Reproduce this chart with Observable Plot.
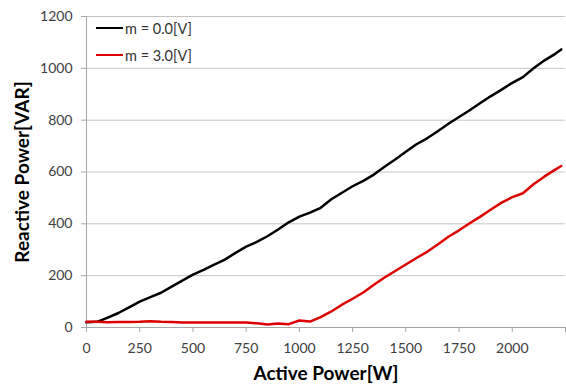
<!DOCTYPE html>
<html><head><meta charset="utf-8">
<script src="https://cdn.jsdelivr.net/npm/d3@7"></script>
<script src="https://cdn.jsdelivr.net/npm/@observablehq/plot@0.6"></script>
<style>
body{margin:0;background:#fff;}
#wrap{position:relative;width:566px;height:388px;overflow:hidden;}
.leg{position:absolute;left:96px;font:14.5px Lato,sans-serif;color:#333;display:flex;align-items:center;height:16px;white-space:nowrap;}
.leg .sw{display:inline-block;width:27px;height:2.5px;margin-right:2px;}
</style></head><body><div id="wrap"></div>
<script>
const powerW = [0,50,100,150,200,250,300,350,400,450,500,550,600,650,700,750,800,850,900,950,1000,1050,1100,1150,1200,1250,1300,1350,1400,1450,1500,1550,1600,1650,1700,1750,1800,1850,1900,1950,2000,2050,2100,2150,2200,2230];
const seriesNames = ["m = 0.0[V]", "m = 3.0[V]"];
const seriesColors = ["#000000", "#dd0000"];
const reactive0 = [20,22,38,56,78,100,117,134,158,181,204,222,243,262,288,312,330,352,378,406,428,443,462,495,520,545,566,590,620,648,678,707,730,757,786,812,838,866,893,918,944,966,1000,1030,1055,1073];
const reactive3 = [22,22,20,21,21,22,24,22,21,19,19,19,19,19,19,19,16,12,15,13,27,23,40,62,88,111,135,165,193,218,243,268,292,320,350,375,402,428,455,482,503,518,553,582,608,623];
const xTicks = [0,250,500,750,1000,1250,1500,1750,2000,2250];
const yTicks = [0,200,400,600,800,1000,1200];
const xTitle = "Active Power[W]";
const yTitle = "Reactive Power[VAR]";

const rows = [];
powerW.forEach((p, i) => {
  rows.push({p, q: reactive0[i], s: seriesNames[0]});
  rows.push({p, q: reactive3[i], s: seriesNames[1]});
});

const chart = Plot.plot({
  width: 566, height: 388,
  marginLeft: 86, marginRight: 1, marginTop: 16, marginBottom: 61,
  style: {fontFamily: "Lato, sans-serif", fontSize: "14px", background: "#fff"},
  x: {domain: [0, 2250]},
  y: {domain: [0, 1200]},
  color: {domain: seriesNames, range: seriesColors},
  marks: [
    Plot.gridY(yTicks, {stroke: "#c4c4c4", strokeOpacity: 1}),
    Plot.ruleX([0], {stroke: "#a6a6a6"}),
    Plot.ruleY([0], {stroke: "#a6a6a6"}),
    Plot.axisX(xTicks, {tickSize: 5, tickPadding: 11, stroke: "#a6a6a6", fill: "#404040", label: null,
      tickFormat: d => d === 2250 ? "" : String(d)}),
    Plot.axisY(yTicks, {tickSize: 5, tickPadding: 9, stroke: "#a6a6a6", fill: "#404040", label: null,
      tickFormat: d => String(d)}),
    Plot.line(rows, {x: "p", y: "q", z: "s", stroke: "s", strokeWidth: 2.5}),
    Plot.text([xTitle], {frameAnchor: "bottom", dy: 46, textAnchor: "middle", lineAnchor: "middle", fontWeight: "bold", fontSize: 19, fill: "#000", text: d => d}),
    Plot.text([yTitle], {frameAnchor: "left", dx: -64, rotate: -90, textAnchor: "middle", lineAnchor: "middle", fontWeight: "bold", fontSize: 19, fill: "#000", text: d => d})
  ]
});
const wrap = document.getElementById("wrap");
wrap.appendChild(chart);
seriesNames.forEach((n, i) => {
  const d = document.createElement("div");
  d.className = "leg";
  d.style.top = (i === 0 ? 20 : 47) + "px";
  d.innerHTML = `<span class="sw" style="background:${seriesColors[i]}"></span>${n}`;
  wrap.appendChild(d);
});
</script></body></html>
